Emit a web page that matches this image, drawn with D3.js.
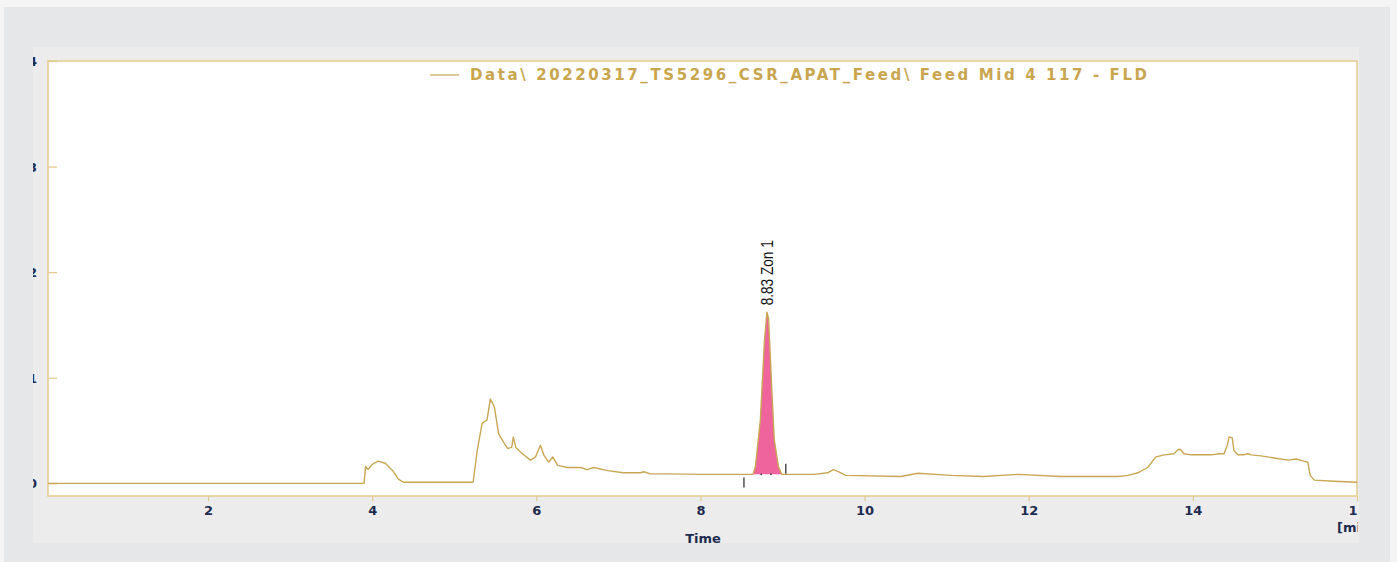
<!DOCTYPE html>
<html><head><meta charset="utf-8">
<script src="https://cdn.jsdelivr.net/npm/d3@7"></script>
<style>html,body{margin:0;padding:0;background:#f4f4f4;}svg{display:block;}</style>
</head><body>
<script>
const times = [0.05,3.90,3.92,3.95,4.00,4.07,4.16,4.25,4.32,4.38,5.23,5.28,5.34,5.40,5.44,5.49,5.54,5.60,5.65,5.70,5.72,5.75,5.83,5.93,5.99,6.05,6.09,6.15,6.20,6.26,6.38,6.54,6.62,6.70,6.87,7.06,7.27,7.31,7.39,7.60,8.00,8.49,8.64,8.67,8.73,8.78,8.81,8.83,8.87,8.90,8.95,8.99,9.38,9.55,9.62,9.68,9.77,10.44,10.65,11.05,11.45,11.87,12.39,13.09,13.21,13.33,13.45,13.55,13.65,13.77,13.82,13.85,13.89,13.98,14.10,14.22,14.32,14.38,14.42,14.44,14.48,14.50,14.55,14.62,14.67,14.71,14.83,14.99,15.16,15.26,15.35,15.40,15.43,15.48,15.72,16.01];
const signal = [0,0,0.16,0.13,0.18,0.21,0.19,0.12,0.04,0.01,0.01,0.31,0.57,0.60,0.80,0.72,0.47,0.39,0.33,0.34,0.44,0.34,0.28,0.22,0.25,0.36,0.27,0.20,0.25,0.17,0.15,0.15,0.13,0.15,0.12,0.10,0.10,0.11,0.09,0.09,0.085,0.085,0.085,0.16,0.60,1.35,1.62,1.56,0.88,0.41,0.16,0.085,0.085,0.10,0.13,0.11,0.075,0.065,0.095,0.075,0.065,0.085,0.065,0.065,0.075,0.10,0.15,0.25,0.27,0.28,0.32,0.32,0.28,0.27,0.27,0.27,0.28,0.28,0.36,0.44,0.43,0.31,0.27,0.27,0.28,0.27,0.26,0.24,0.22,0.23,0.21,0.20,0.075,0.03,0.02,0.01];
const xTicks = [2,4,6,8,10,12,14,16];
const yTicks = [0,1,2,3,4];
const legendLabel = "Data\\ 20220317_TS5296_CSR_APAT_Feed\\ Feed Mid 4 117 - FLD";
const peakLabel = "8.83 Zon 1";
const peakRT = [8.81];
const peakHeight = [1.62];
const peakBounds = [8.64, 8.99];
const peakMarks = [8.53, 9.04];
const peakMarkLevel = [0.01, 0.14];
const peakDots = [8.74, 8.86];
const baselineLevel = 0.085;

const W = 1397, H = 562;
const svg = d3.select("body").append("svg").attr("width", W).attr("height", H);
svg.append("rect").attr("x",4).attr("y",7).attr("width",1386).attr("height",555).attr("fill","#e6e7e9");
svg.append("rect").attr("x",33).attr("y",47).attr("width",1326).attr("height",496).attr("fill","#ececec");

const L = 48, R = 1357, T = 61, B = 496;
const x = d3.scaleLinear().domain([0.05, 16]).range([L, R]);
const y = d3.scaleLinear().domain([-0.12, 4]).range([B, T]);

svg.append("rect").attr("x",L).attr("y",T).attr("width",R-L).attr("height",B-T)
  .attr("fill","#fff").attr("stroke","#e6cf93").attr("stroke-width",1.6);

const defs = svg.append("defs");
defs.append("clipPath").attr("id","panelClip").append("rect").attr("x",33).attr("y",40).attr("width",R+1-33).attr("height",510);
defs.append("clipPath").attr("id","plotClip").append("rect").attr("x",L).attr("y",T).attr("width",R-L).attr("height",B-T);

const navy = "#1d2b4f";
const axisFont = "DejaVu Sans, Verdana, sans-serif";
// x axis
const xAxis = d3.axisBottom(x).tickValues(xTicks).tickSize(5).tickPadding(5).tickFormat(d3.format("d"));
const gx = svg.append("g").attr("clip-path","url(#panelClip)").append("g").attr("transform",`translate(0,${B})`).call(xAxis);
gx.select(".domain").remove();
gx.selectAll(".tick line").attr("stroke","#e2c98a").attr("stroke-width",1.2);
gx.selectAll(".tick text").attr("fill",navy).attr("font-family",axisFont).attr("font-size",13).attr("font-weight","bold");

// y axis
const yAxis = d3.axisLeft(y).tickValues(yTicks).tickSize(-9).tickPadding(11).tickFormat(d3.format("d"));
const gy = svg.append("g").attr("clip-path","url(#panelClip)").append("g").attr("transform",`translate(${L},0)`).call(yAxis);
gy.select(".domain").remove();
gy.selectAll(".tick line").attr("stroke","#e2c98a").attr("stroke-width",1.2);
gy.selectAll(".tick text").attr("fill",navy).attr("font-family",axisFont).attr("font-size",13).attr("font-weight","bold").attr("dy","0.35em");

// axis titles
svg.append("text").attr("x",703).attr("y",543).attr("text-anchor","middle")
  .attr("fill",navy).attr("font-family",axisFont).attr("font-size",13).attr("font-weight","bold").text("Time");
svg.append("g").attr("clip-path","url(#panelClip)").append("text").attr("x",1337).attr("y",532)
  .attr("fill",navy).attr("font-family",axisFont).attr("font-size",13).attr("font-weight","bold").text("[min]");

// data
const pts = times.map((t,i)=>({t, v: signal[i]}));
const plot = svg.append("g").attr("clip-path","url(#plotClip)");
const peakPts = pts.filter(p => p.t >= peakBounds[0] && p.t <= peakBounds[1]);
plot.append("path").datum(peakPts)
  .attr("d", d3.area().x(d=>x(d.t)).y0(y(baselineLevel)).y1(d=>y(d.v)))
  .attr("fill","#f0649e");
plot.append("path").datum(pts)
  .attr("d", d3.line().x(d=>x(d.t)).y(d=>y(d.v)))
  .attr("fill","none").attr("stroke","#c9a654").attr("stroke-width",1.4).attr("stroke-linejoin","round");

// peak markers
peakMarks.forEach((t,i)=>{
  plot.append("line").attr("x1",x(t)).attr("x2",x(t))
    .attr("y1",y(peakMarkLevel[i]-0.05)).attr("y2",y(peakMarkLevel[i]+0.045))
    .attr("stroke","#333").attr("stroke-width",1.3);
});
peakDots.forEach(t=>{
  plot.append("rect").attr("x",x(t)-0.8).attr("y",y(baselineLevel)-0.8).attr("width",1.6).attr("height",1.6).attr("fill","#444");
});

// peak label
const px = x(peakRT[0]), py = y(peakHeight[0]);
svg.append("text").attr("transform",`translate(${px+6},${py-7}) rotate(-90)`)
  .attr("fill","#111").attr("font-family","Liberation Sans Narrow, Arial Narrow, Liberation Sans, sans-serif")
  .attr("font-size",16).attr("textLength",65).attr("lengthAdjust","spacingAndGlyphs").text(peakLabel);

// legend
svg.append("line").attr("x1",430).attr("x2",459).attr("y1",75).attr("y2",75).attr("stroke","#c9a654").attr("stroke-width",1.2);
svg.append("text").attr("x",470).attr("y",80).attr("fill","#c9a64e")
  .attr("font-family","DejaVu Sans, Verdana, sans-serif").attr("font-size",15).attr("font-weight","bold")
  .attr("textLength",677).attr("lengthAdjust","spacing").text(legendLabel);
</script>
</body></html>
